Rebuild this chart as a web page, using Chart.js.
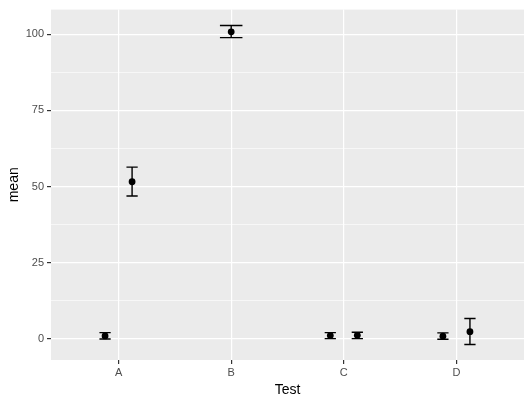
<!DOCTYPE html>
<html>
<head>
<meta charset="utf-8">
<script src="https://cdn.jsdelivr.net/npm/chart.js@4.4.0/dist/chart.umd.min.js"></script>
<style>
  html, body { margin: 0; padding: 0; background: #fff; }
  #wrap { width: 531px; height: 404px; }
</style>
</head>
<body>
<div id="wrap"><canvas id="chart"></canvas></div>
<script>
// ── DATOS ─────────────────────────────────────────────
const categories = ['A', 'B', 'C', 'D'];

// serie izquierda (dodge -) y derecha (dodge +)
const leftMean  = [1.0, null, 1.1, 0.9];
const leftLow   = [0.0, null, 0.1, -0.1];
const leftHigh  = [2.1, null, 2.1, 2.0];

const rightMean = [51.6, 100.8, 1.2, 2.4];
const rightLow  = [46.9, 98.9, 0.1, -1.8];
const rightHigh = [56.4, 102.9, 2.2, 6.7];

const yMajor = [0, 25, 50, 75, 100];
const yMinor = [12.5, 37.5, 62.5, 87.5];

// ── POSICIONES (dodge) ────────────────────────────────
const DODGE = 0.12;
const series = [
    { mean: leftMean,  low: leftLow,  high: leftHigh,  side: -1 },
    { mean: rightMean, low: rightLow, high: rightHigh, side: 1 }
];

function alone(i) {
    return series.filter(s => s.mean[i] !== null).length === 1;
}
function xPos(s, i) {
    return alone(i) ? i + 1 : i + 1 + s.side * DODGE;
}

const points = [];
series.forEach(s => {
    s.mean.forEach((m, i) => {
        if (m !== null) points.push({ x: xPos(s, i), y: m });
    });
});

// ── PLUGINS ───────────────────────────────────────────
const panelBg = {
    id: 'panelBg',
    beforeDraw(chart) {
        const { ctx, chartArea: a } = chart;
        ctx.save();
        ctx.fillStyle = '#fff';
        ctx.fillRect(0, 0, chart.width, chart.height);
        ctx.fillStyle = '#EBEBEB';
        ctx.fillRect(a.left, a.top, a.right - a.left, a.bottom - a.top);
        ctx.restore();
    }
};

const errorBars = {
    id: 'errorBars',
    beforeDatasetsDraw(chart) {
        const { ctx, scales: { x, y } } = chart;
        ctx.save();
        ctx.strokeStyle = '#000';
        ctx.lineWidth = 1.4;
        series.forEach(s => {
            s.mean.forEach((m, i) => {
                if (m === null) return;
                const xv  = xPos(s, i);
                const cap = alone(i) ? 0.1 : 0.05;
                const px  = x.getPixelForValue(xv);
                const hw  = x.getPixelForValue(xv + cap) - px;
                const yl  = y.getPixelForValue(s.low[i]);
                const yh  = y.getPixelForValue(s.high[i]);
                ctx.beginPath();
                ctx.moveTo(px, yl); ctx.lineTo(px, yh);
                ctx.moveTo(px - hw, yl); ctx.lineTo(px + hw, yl);
                ctx.moveTo(px - hw, yh); ctx.lineTo(px + hw, yh);
                ctx.stroke();
            });
        });
        ctx.restore();
    }
};

// ── GRÁFICO ───────────────────────────────────────────
const isMajor = v => yMajor.includes(v);

new Chart(document.getElementById('chart'), {
    type: 'scatter',
    data: {
        datasets: [{
            data: points,
            backgroundColor: '#000',
            borderColor: '#000',
            borderWidth: 0,
            pointRadius: 3.4,
            pointHoverRadius: 3.4
        }]
    },
    options: {
        responsive: true,
        maintainAspectRatio: false,
        animation: false,
        devicePixelRatio: 1,
        layout: { padding: { top: 7, right: 7, left: 0, bottom: 0 } },
        plugins: { legend: { display: false }, tooltip: { enabled: false } },
        scales: {
            x: {
                type: 'linear',
                min: 0.4,
                max: 4.6,
                afterBuildTicks: s => { s.ticks = categories.map((c, i) => ({ value: i + 1 })); },
                afterFit: s => { s.height = 44; },
                ticks: {
                    callback: (v, i) => categories[i],
                    color: '#4D4D4D',
                    font: { family: 'Liberation Sans', size: 11 },
                    padding: 2,
                    autoSkip: false,
                    maxRotation: 0
                },
                grid: { color: '#fff', lineWidth: 1.2, tickColor: '#333', tickLength: 4 },
                border: { display: false },
                title: {
                    display: true,
                    text: 'Test',
                    color: '#000',
                    font: { family: 'Liberation Sans', size: 14 },
                    padding: { top: 0, bottom: 5 }
                }
            },
            y: {
                type: 'linear',
                min: -6.9,
                max: 108.1,
                afterBuildTicks: s => {
                    s.ticks = [...yMajor, ...yMinor].sort((a, b) => a - b).map(v => ({ value: v }));
                },
                afterFit: s => { s.width = 51; },
                ticks: {
                    callback: v => isMajor(v) ? String(v) : '',
                    color: '#4D4D4D',
                    font: { family: 'Liberation Sans', size: 11 },
                    padding: 3,
                    autoSkip: false
                },
                grid: {
                    color: '#fff',
                    lineWidth: c => isMajor(c.tick.value) ? 1.2 : 0.6,
                    tickColor: c => isMajor(c.tick.value) ? '#333' : 'rgba(0,0,0,0)',
                    tickLength: 4
                },
                border: { display: false },
                title: {
                    display: true,
                    text: 'mean',
                    color: '#000',
                    font: { family: 'Liberation Sans', size: 14 },
                    padding: { top: 6, bottom: 0 }
                }
            }
        }
    },
    plugins: [panelBg, errorBars]
});
</script>
</body>
</html>
